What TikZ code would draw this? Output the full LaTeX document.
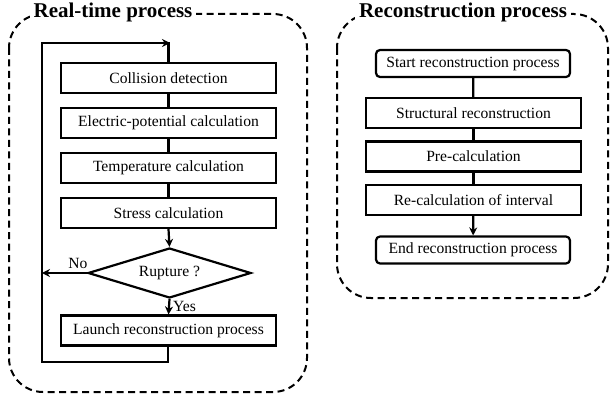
\documentclass[tikz,border=0pt]{standalone}
\usepackage{fontspec}
\setmainfont{Liberation Serif}
\usetikzlibrary{shapes.geometric,arrows.meta,calc}
\begin{document}
\begin{tikzpicture}[x=1pt,y=-1pt,
  every node/.style={font=\fontsize{15.6}{18}\selectfont},
  proc/.style={draw,line width=2.2pt,minimum width=215pt,minimum height=30pt,inner sep=0pt},
  term/.style={draw,line width=2.2pt,rounded corners=4pt,minimum width=194pt,minimum height=27pt,inner sep=0pt},
  dec/.style={draw,line width=2.2pt,diamond,aspect=3.26,minimum width=163pt,minimum height=50pt,inner sep=0pt},
  frame/.style={line width=2pt,dash pattern=on 7pt off 4.5pt,rounded corners=34pt},
  ttl/.style={fill=white,font=\fontsize{21}{24}\selectfont\bfseries,inner sep=4pt},
  con/.style={line width=2.2pt},
  arr/.style={line width=2.2pt,-{Stealth[length=8pt,width=8pt]}}]
\useasboundingbox (0,0) rectangle (610,398);
% frames
\draw[frame] (9,14) rectangle (307,392);
\draw[frame] (337,14) rectangle (608,298);
\node[ttl] (t1) at (113,12) {Real-time process};
\node[ttl] (t2) at (463,12) {Reconstruction process};
% left flow
\node[proc] (a) at (168.5,78) {Collision detection};
\node[proc] (b) at (168.5,123) {Electric-potential calculation};
\node[proc] (c) at (168.5,168) {Temperature calculation};
\node[proc] (d) at (168.5,213) {Stress calculation};
\node[dec] (r) at (169.5,273) {Rupture ?};
\node[proc] (l) at (168.5,330.5) {Launch reconstruction process};
\coordinate (lb) at (168,362);
\coordinate (lbl) at (42,362);
\coordinate (tl) at (42,43);
\coordinate (tt) at (170,43);
\coordinate (nl) at (42,273);
\draw[con] (a) -- (b);
\draw[con] (b) -- (c);
\draw[con] (c) -- (d);
\draw[arr] (d.south) -- (r.north);
\draw[arr] (r.south) -- (l.north);
\draw[arr] (r.west) -- (nl);
\draw[con] (l.south -| lb) -- (lb) -- (lbl) -- (tl) -- (tt);
\draw[arr] (tl) -- (tt);
\draw[con] (tt -| a.north) -- (a.north);
\node[anchor=south] (no) at (78,272) {No};
\node[anchor=west,inner sep=1pt] (yes) at (172,306) {Yes};
% right flow
\node[term] (s) at (473,63.5) {Start reconstruction process};
\node[proc] (e) at (473.5,113) {Structural reconstruction};
\node[proc] (f) at (473.5,156.5) {Pre-calculation};
\node[proc] (g) at (473.5,200) {Re-calculation of interval};
\node[term] (h) at (473,250) {End reconstruction process};
\draw[con] (s) -- (e);
\draw[con] (e) -- (f);
\draw[con] (f) -- (g);
\draw[arr] (g) -- (h);
\end{tikzpicture}
\end{document}
